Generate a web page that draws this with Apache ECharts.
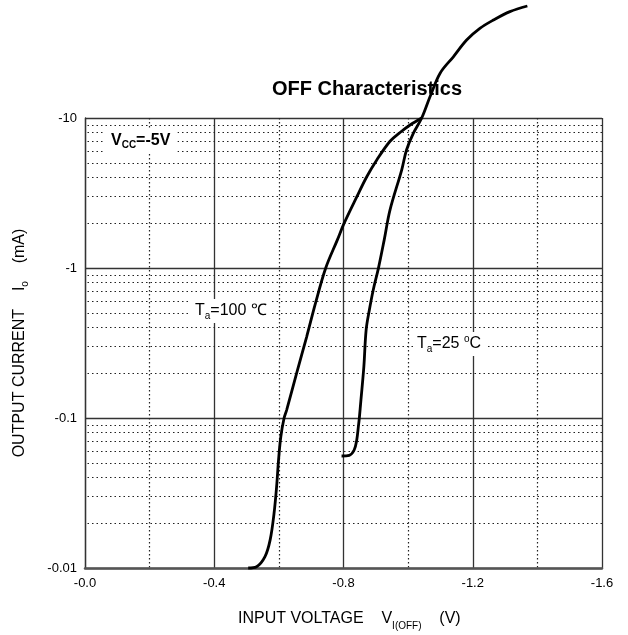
<!DOCTYPE html>
<html><head><meta charset="utf-8">
<script src="https://cdn.jsdelivr.net/npm/echarts@6/dist/echarts.min.js"></script>
<style>html,body{margin:0;padding:0;background:#fff}#c{width:628px;height:635px}</style>
</head><body><div id="c"></div>
<script>
// Ta = 100 °C curve (V, mA)
const voltage100 = [-0.505, -0.531, -0.557, -0.573, -0.585, -0.593, -0.599, -0.606, -0.616, -0.624, -0.655, -0.686, -0.714, -0.745, -0.781, -0.802, -0.841, -0.872, -0.903, -0.944, -0.975, -1.006, -1.042];
const current100 = [-0.0100, -0.0102, -0.0119, -0.0154, -0.0231, -0.0349, -0.0525, -0.075, -0.0995, -0.113, -0.199, -0.348, -0.59, -1.0, -1.54, -1.99, -2.98, -4.06, -5.25, -7.0, -8.0, -8.98, -10.0];
// Ta = 25 °C curve (V, mA)
const voltage25 = [-0.794, -0.818, -0.833, -0.841, -0.846, -0.849, -0.854, -0.863, -0.870, -0.880, -0.892, -0.908, -0.926, -0.944, -0.980, -0.995, -1.016, -1.042, -1.068, -1.099, -1.140, -1.181, -1.222, -1.264, -1.315, -1.369];
const current25 = [-0.0558, -0.0564, -0.0612, -0.0714, -0.0875, -0.100, -0.132, -0.22, -0.386, -0.525, -0.714, -0.995, -1.54, -2.44, -4.5, -6.12, -7.9, -10.0, -13.9, -19.9, -25.6, -33.1, -39.6, -45.0, -51.2, -55.8];
// tick labels
const xTickLabels = {'0': '-0.0', '-0.4': '-0.4', '-0.8': '-0.8', '-1.2': '-1.2', '-1.6': '-1.6'};
const yTickLabels = ['-0.01', '-0.1', '-1', '-10'];
// minor log grid positions
const minorSteps = [2, 3, 4, 5, 6, 7, 8, 9];
const decadeStarts = [0.01, 0.1, 1];

const minorY = [];
decadeStarts.forEach(d => minorSteps.forEach(m => minorY.push(+(d * m).toPrecision(3))));

const FONT = '"Liberation Sans", Arial, sans-serif';
const chart = echarts.init(document.getElementById('c'), null, {renderer: 'canvas'});

function pts(vs, is) { return vs.map((v, i) => [v, Math.abs(is[i])]); }

chart.setOption({
  animation: false,
  backgroundColor: '#fff',
  grid: {left: 85, right: 26, top: 118, bottom: 67, containLabel: false},
  xAxis: {
    type: 'value', min: -1.6, max: 0, interval: 0.4, inverse: true,
    axisLine: {show: true, lineStyle: {color: '#555', width: 2.5}},
    axisTick: {show: false},
    minorTick: {show: false, splitNumber: 2},
    axisLabel: {color: '#000', fontSize: 13, fontFamily: FONT, margin: 9,
      formatter: v => xTickLabels[String(+v.toFixed(1))] || v.toFixed(1)},
    splitLine: {show: true, lineStyle: {color: '#333', width: 1.3}},
    minorSplitLine: {show: true, lineStyle: {color: '#222', width: 1.2, type: [1.5, 2.5]}}
  },
  yAxis: {
    type: 'log', logBase: 10, min: 0.01, max: 10,
    axisLine: {show: true, lineStyle: {color: '#333', width: 1.3}},
    axisTick: {show: false},
    axisLabel: {color: '#000', fontSize: 13, fontFamily: FONT, margin: 8,
      formatter: v => yTickLabels[Math.round(Math.log10(v)) + 2]},
    splitLine: {show: true, lineStyle: {color: '#333', width: 1.3}}
  },
  series: [
    {
      type: 'line', data: [], z: 1, silent: true,
      markLine: {
        silent: true, symbol: ['none', 'none'], label: {show: false}, animation: false,
        lineStyle: {color: '#222', width: 1.2, type: [1.5, 3]},
        emphasis: {disabled: true},
        data: minorY.map(v => ({yAxis: v}))
      }
    },
    {
      name: 'Ta=100', type: 'line', data: pts(voltage100, current100), z: 5,
      smooth: 0.35, symbol: 'none', clip: false,
      lineStyle: {color: '#000', width: 2.8}
    },
    {
      name: 'Ta=25', type: 'line', data: pts(voltage25, current25), z: 5,
      smooth: 0.35, symbol: 'none', clip: false,
      lineStyle: {color: '#000', width: 2.8}
    }
  ],
  graphic: [
    {type: 'text', z: 10, x: 367, y: 89, style: {text: 'OFF Characteristics', font: 'bold 20px ' + FONT, fill: '#000', align: 'center', verticalAlign: 'middle'}},
    {type: 'text', z: 10, x: 104, y: 141, style: {
      text: '{b|V}{bs|CC}{b|=-5V}', fill: '#000', align: 'left', verticalAlign: 'middle',
      backgroundColor: '#fff', padding: [2, 7, 2, 7],
      rich: {b: {font: 'bold 16px ' + FONT, fill: '#000'}, bs: {font: 'bold 10px ' + FONT, fill: '#000', padding: [9, 0, 0, 0]}}}},
    {type: 'text', z: 10, x: 191, y: 311, style: {
      text: '{t|T}{s|a}{t|=100 ℃}', fill: '#000', align: 'left', verticalAlign: 'middle',
      backgroundColor: '#fff', padding: [2, 4, 2, 4],
      rich: {t: {font: '16px ' + FONT, fill: '#000'}, s: {font: '10px ' + FONT, fill: '#000', padding: [10, 0, 0, 0]}}}},
    {type: 'text', z: 10, x: 413, y: 344, style: {
      text: '{t|T}{s|a}{t|=25 }{o|o}{t|C}', fill: '#000', align: 'left', verticalAlign: 'middle',
      backgroundColor: '#fff', padding: [2, 4, 2, 4],
      rich: {t: {font: '16px ' + FONT, fill: '#000'}, s: {font: '10px ' + FONT, fill: '#000', padding: [10, 0, 0, 0]},
             o: {font: '10px ' + FONT, fill: '#000', padding: [0, 0, 9, 0]}}}},
    {type: 'text', z: 10, x: 238, y: 619, style: {
      text: '{t|INPUT VOLTAGE    V}{s|I(OFF)}{t|    (V)}', fill: '#000', align: 'left', verticalAlign: 'middle',
      rich: {t: {font: '16px ' + FONT, fill: '#000'}, s: {font: '10px ' + FONT, fill: '#000', padding: [14, 0, 0, 0]}}}},
    {type: 'text', z: 10, x: 20, y: 343, rotation: Math.PI / 2, style: {
      text: '{t|OUTPUT CURRENT    I}{s|o}{t|    (mA)}', fill: '#000', align: 'center', verticalAlign: 'middle',
      rich: {t: {font: '16px ' + FONT, fill: '#000'}, s: {font: '10px ' + FONT, fill: '#000', padding: [10, 0, 0, 0]}}}}
  ]
});
</script>
</body></html>
